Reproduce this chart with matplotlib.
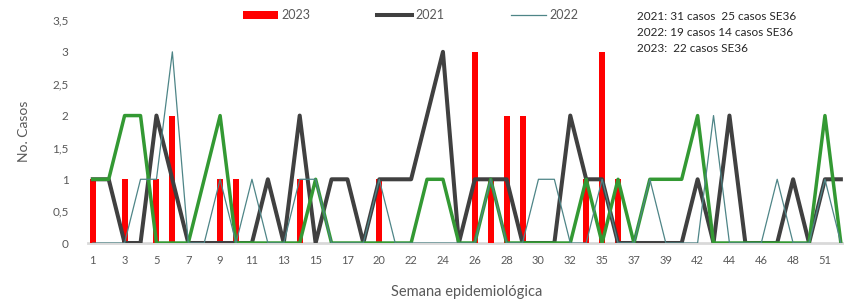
import matplotlib
matplotlib.use("Agg")
import matplotlib.pyplot as plt
import numpy as np

plt.rcParams["font.family"] = ["Lato", "DejaVu Sans"]

# semanas epidemiológicas (categorías del eje x)
weeks = [1, 2, 3, 4, 5, 6, 7, 8, 9, 10, 11, 12, 13, 14, 15, 16, 17, 19,
         20, 21, 22, 23, 24, 25, 26, 27, 28, 29, 30, 31, 32, 34, 35, 36,
         37, 38, 39, 41, 42, 43, 44, 45, 46, 47, 48, 50, 51, 52]

cases_2023 = [1, 0, 1, 0, 1, 2, 0, 0, 1, 1, 0, 0, 0, 1, 0, 0, 0, 0,
              1, 0, 0, 0, 0, 0, 3, 1, 2, 2, 0, 0, 0, 1, 3, 1,
              0, 0, 0, 0, 0, 0, 0, 0, 0, 0, 0, 0, 0, 0]
cases_2021 = [1, 1, 0, 0, 2, 1, 0, 0, 0, 0, 0, 1, 0, 2, 0, 1, 1, 0,
              1, 1, 1, 2, 3, 0, 1, 1, 1, 0, 0, 0, 2, 1, 1, 0,
              0, 0, 0, 0, 1, 0, 2, 0, 0, 0, 1, 0, 1, 1]
cases_2022 = [0, 0, 0, 1, 1, 3, 0, 0, 1, 0, 1, 0, 0, 1, 1, 0, 0, 0,
              1, 0, 0, 0, 0, 0, 0, 1, 0, 0, 1, 1, 0, 0, 1, 0,
              0, 1, 0, 0, 0, 2, 0, 0, 0, 1, 0, 0, 1, 0]
cases_green = [1, 1, 2, 2, 0, 0, 0, 1, 2, 0, 0, 0, 0, 0, 1, 0, 0, 0,
               0, 0, 0, 1, 1, 0, 0, 1, 0, 0, 0, 0, 0, 1, 0, 1,
               0, 1, 1, 1, 2, 0, 0, 0, 0, 0, 0, 0, 2, 0]

notes = ["2021: 31 casos  25 casos SE36",
         "2022: 19 casos 14 casos SE36",
         "2023:  22 casos SE36"]

x = np.arange(len(weeks))

fig = plt.figure(figsize=(8.45, 3.0), dpi=100)
ax = fig.add_axes([88 / 845, 57 / 300, 757 / 845, 223 / 300])

bars = ax.bar(x, cases_2023, width=0.38, color="#FF0000", label="2023", zorder=1)
l21, = ax.plot(x, cases_2021, color="#404040", lw=2.9, label="2021", zorder=2)
ax.plot(x, cases_green, color="#339933", lw=2.5, zorder=3)
l22, = ax.plot(x, cases_2022, color="#4E8587", lw=0.9, label="2022", zorder=4)

ax.set_xlim(-0.3, 47.26)
ax.set_ylim(0, 3.5)
ax.set_xticks(x[::2])
ax.set_xticklabels([str(w) for w in weeks[::2]], fontsize=8, color="#595959")
yt = np.arange(0, 3.51, 0.5)
ax.set_yticks(yt)
ax.set_yticklabels([f"{v:g}".replace(".", ",") for v in yt], fontsize=8.5, color="#595959")
ax.tick_params(length=0, pad=9)
ax.tick_params(axis="y", pad=14)

for s in ["top", "right", "left"]:
    ax.spines[s].set_visible(False)
ax.spines["bottom"].set_color("#D9D9D9")
ax.spines["bottom"].set_linewidth(2)
ax.spines["bottom"].set_zorder(0)

ax.set_xlabel("Semana epidemiológica", fontsize=10.5, color="#595959", labelpad=13)
ax.set_ylabel("No. Casos", fontsize=10, color="#595959", labelpad=16)

ax.legend([bars, l21, l22], ["2023", "2021", "2022"],
          loc="upper left", bbox_to_anchor=(0.19, 1.1), ncol=3, frameon=False,
          fontsize=9, labelcolor="#595959", handlelength=2.8, handleheight=0.6,
          columnspacing=5.3, handletextpad=0.3)

for k, line in enumerate(notes):
    fig.text(637 / 845, 1 - (17 + 16 * k) / 300, line, fontsize=8.5,
             color="#262626", va="center", ha="left")

fig.savefig("out.png", dpi=100)
